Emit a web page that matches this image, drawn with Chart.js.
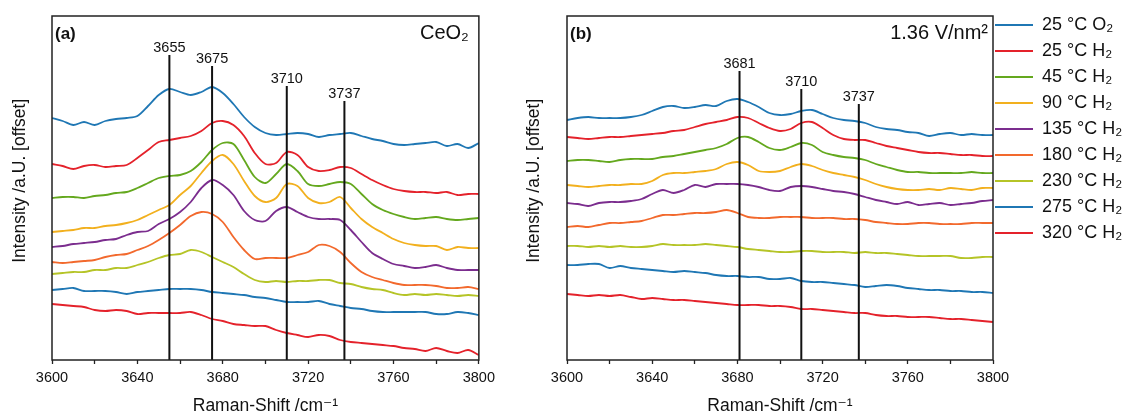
<!DOCTYPE html>
<html>
<head>
<meta charset="utf-8">
<script src="https://cdn.jsdelivr.net/npm/chart.js@4.4.1/dist/chart.umd.min.js"></script>
<style>
html,body{margin:0;padding:0;background:#fff;overflow:hidden;}
#wrap{position:relative;width:1124px;height:417px;}
canvas{position:absolute;top:0;}
#chartA{left:0;}
#chartB{left:520px;}
</style>
</head>
<body>
<div id="wrap">
<canvas id="chartA" width="500" height="417"></canvas>
<canvas id="chartB" width="604" height="417"></canvas>
</div>
<script>
// Raman shift grid (cm-1), shared by both panels
const shifts = [3600,3605,3610,3615,3620,3625,3630,3635,3640,3645,3650,3655,3660,3665,3670,3675,3680,3685,3690,3695,3700,3705,3710,3715,3720,3725,3730,3735,3740,3745,3750,3755,3760,3765,3770,3775,3780,3785,3790,3795,3800];

const labels = ["25 °C O₂","25 °C H₂","45 °C H₂","90 °C H₂","135 °C H₂","180 °C H₂","230 °C H₂","275 °C H₂","320 °C H₂"];
const colors = ["#1f77b4","#e4222b","#64a81e","#f2b01e","#7b2d8e","#f2692d","#b5c427","#1f77b4","#e4222b"];

// (a) CeO2, offset intensities
const a_O2_25  = [242,239,235,238,235,239,241,242,244,254,265,271,268,265,268,273,267,256,243,233,227,225,226,227,226,223,225,226,227,224,221,219,216,215,216,217,218,214,216,212,217];
const a_H2_25  = [196,194,191,194,195,193,194,195,202,210,218,220,222,224,229,237,239,235,224,207,196,197,208,205,193,189,190,193,192,186,180,175,171,169,168,168,167,168,165,166,166];
const a_H2_45  = [162,163,163,162,164,165,167,168,172,177,182,184,185,189,198,210,217,216,200,183,177,186,196,189,176,174,176,178,176,166,156,150,146,143,141,142,143,141,140,141,142];
const a_H2_90  = [128,129,130,132,132,134,135,137,140,145,150,155,165,174,187,199,205,196,179,164,158,162,176,174,162,157,158,163,152,141,133,127,121,117,115,114,114,110,113,112,112];
const a_H2_135 = [113,114,116,117,118,120,121,125,128,129,136,141,148,158,172,180,175,165,149,140,139,149,153,148,143,141,141,140,130,118,107,101,96,94,92,93,95,92,90,90,90];
const a_H2_180 = [98,97,98,99,100,103,105,106,110,114,120,127,135,144,148,146,138,123,110,101,102,102,102,105,108,115,114,108,97,88,83,80,77,75,75,75,74,72,72,73,71];
const a_H2_230 = [86,87,88,88,90,90,92,92,95,98,102,105,106,110,108,103,98,93,86,80,78,79,78,79,79,80,80,77,76,73,71,70,67,65,66,65,66,65,64,65,64];
const a_H2_275 = [70,71,72,69,69,69,68,66,68,69,70,71,71,71,70,68,67,66,65,63,62,60,58,58,58,59,56,54,52,51,49,48,48,48,48,48,46,46,48,47,45];
const a_H2_320 = [56,55,54,53,50,49,50,49,46,47,47,47,47,48,45,41,39,36,35,34,34,30,27,25,23,25,24,20,18,17,16,15,14,12,11,9,12,9,7,10,5];

// (b) 1.36 V/nm2, offset intensities
const b_O2_25  = [240,242,243,242,242,242,243,245,249,253,254,252,253,255,254,259,261,258,253,247,245,246,249,250,246,242,240,239,237,233,231,230,228,227,224,226,227,225,226,225,225];
const b_H2_25  = [223,222,221,222,223,223,224,225,226,227,229,230,233,236,238,240,243,242,237,232,229,231,237,238,232,225,221,220,220,217,214,212,210,208,207,207,206,205,205,204,204];
const b_H2_45  = [199,200,200,199,198,200,201,201,201,203,204,206,208,210,212,216,222,223,218,212,210,213,217,215,208,205,203,202,200,196,193,190,188,188,187,187,187,187,188,187,187];
const b_H2_90  = [175,174,173,174,175,175,176,176,179,185,187,187,188,189,191,196,198,195,189,188,189,193,196,194,190,187,185,183,180,176,173,171,170,170,171,170,172,171,170,172,172];
const b_H2_135 = [157,156,154,157,158,158,159,161,166,170,167,170,175,173,176,176,176,175,173,170,169,173,174,173,171,169,168,166,163,160,158,156,158,155,156,157,155,156,157,159,160];
const b_H2_180 = [133,134,133,135,137,137,138,139,142,145,145,146,147,147,148,150,147,143,142,142,143,143,143,142,142,142,141,141,140,138,137,136,136,137,137,136,136,136,137,137,137];
const b_H2_230 = [114,114,113,114,113,114,113,113,114,116,115,115,115,116,115,114,113,111,110,109,108,108,109,109,108,108,108,107,108,107,107,106,105,104,104,104,104,102,102,103,103];
const b_H2_275 = [95,95,96,96,92,94,92,91,90,89,88,89,88,87,85,84,84,83,83,81,81,82,79,78,78,77,76,75,73,74,75,74,72,71,70,70,69,69,68,68,67];
const b_H2_320 = [66,65,64,65,64,65,63,61,62,61,60,60,59,58,57,56,55,55,55,54,54,53,51,51,50,49,48,47,47,45,44,44,43,43,43,42,41,41,40,39,38];

// band positions and how high their marker lines reach
const peaksA = [3655,3675,3710,3737];
const peakTopsA = [305,294,274,259];
const peaksB = [3681,3710,3737];
const peakTopsB = [289,271,256];

const FONT = '"Liberation Sans", Arial, "DejaVu Sans", sans-serif';
Chart.defaults.font.family = FONT;
Chart.defaults.color = '#111';

// frame, band labels and panel captions
const panelDecor = {
  id: 'panelDecor',
  afterDraw(chart, args, opts) {
    const {ctx, chartArea: a, scales} = chart;
    ctx.save();
    ctx.strokeStyle = '#222';
    ctx.lineWidth = 1.5;
    ctx.strokeRect(a.left, a.top, a.right - a.left, a.bottom - a.top);

    ctx.fillStyle = '#111';
    ctx.font = '14.5px ' + FONT;
    ctx.textAlign = 'center';
    ctx.textBaseline = 'alphabetic';
    opts.peaks.forEach((p, i) => {
      ctx.fillText(String(p), scales.x.getPixelForValue(p), scales.y.getPixelForValue(opts.tops[i]) - 3);
    });

    ctx.textBaseline = 'middle';
    ctx.textAlign = 'left';
    ctx.font = 'bold 17px ' + FONT;
    ctx.fillText(opts.tag, a.left + 3, a.top + 18);
    ctx.textAlign = 'right';
    ctx.font = '20px ' + FONT;
    ctx.fillText(opts.sample, a.right - opts.inset, a.top + 17);
    ctx.restore();
  }
};

// pull the key up and left, next to the frame
const legendNudge = {
  id: 'legendNudge',
  afterLayout(chart) {
    if (chart.legend && chart.options.plugins.legend.display) {
      chart.legend.left -= 6;
      chart.legend.top -= 8;
    }
  }
};

function buildDatasets(series, peaks, tops) {
  const sets = series.map((vals, i) => ({
    label: labels[i],
    data: shifts.map((x, j) => ({x, y: vals[j]})),
    borderColor: colors[i],
    backgroundColor: colors[i],
    borderWidth: 1.8,
    pointRadius: 0,
    tension: 0.3,
    fill: false
  }));
  peaks.forEach((p, i) => {
    sets.push({
      label: String(p),
      data: [{x: p, y: 0}, {x: p, y: tops[i]}],
      borderColor: '#111',
      borderWidth: 2,
      pointRadius: 0,
      order: -1
    });
  });
  return sets;
}

function makePanel(id, series, peaks, tops, cfg) {
  return new Chart(document.getElementById(id), {
    type: 'line',
    data: {datasets: buildDatasets(series, peaks, tops)},
    options: {
      responsive: false,
      animation: false,
      events: [],
      layout: {padding: cfg.padding},
      scales: {
        x: {
          type: 'linear',
          min: 3600,
          max: 3800,
          afterFit: s => { s.height = 57; },
          border: {display: false},
          grid: {drawOnChartArea: false, tickLength: 4, color: '#222', tickWidth: 1.3},
          ticks: {
            stepSize: 20,
            autoSkip: false,
            maxRotation: 0,
            padding: 5,
            color: '#111',
            font: {size: 14.5},
            callback: v => (v % 40 === 0 ? String(v) : '')
          },
          title: {
            display: true,
            text: 'Raman-Shift /cm⁻¹',
            color: '#111',
            font: {size: 17.5},
            padding: {top: 0, bottom: 0}
          }
        },
        y: {
          min: 0,
          max: 344,
          afterFit: s => { s.width = cfg.yWidth; },
          border: {display: false},
          grid: {display: false},
          ticks: {display: false},
          title: {
            display: true,
            text: '   Intensity /a.U. [offset]',
            color: '#111',
            font: {size: 17.5},
            padding: {top: cfg.titlePad, bottom: 0}
          }
        }
      },
      plugins: {
        tooltip: {enabled: false},
        legend: cfg.legend,
        panelDecor: {peaks, tops, tag: cfg.tag, sample: cfg.sample, inset: cfg.inset}
      }
    },
    plugins: [panelDecor, legendNudge]
  });
}

makePanel('chartA',
  [a_O2_25, a_H2_25, a_H2_45, a_H2_90, a_H2_135, a_H2_180, a_H2_230, a_H2_275, a_H2_320],
  peaksA, peakTopsA,
  {
    padding: {top: 16, right: 21, left: 0, bottom: 0},
    yWidth: 52,
    titlePad: 10,
    tag: '(a)',
    sample: 'CeO₂',
    inset: 10,
    legend: {display: false}
  });

makePanel('chartB',
  [b_O2_25, b_H2_25, b_H2_45, b_H2_90, b_H2_135, b_H2_180, b_H2_230, b_H2_275, b_H2_320],
  peaksB, peakTopsB,
  {
    padding: {top: 16, right: 0, left: 0, bottom: 0},
    yWidth: 47,
    titlePad: 3.5,
    tag: '(b)',
    sample: '1.36 V/nm²',
    inset: 5,
    legend: {
      display: true,
      position: 'right',
      align: 'start',
      maxWidth: 131,
      labels: {
        usePointStyle: true,
        pointStyle: 'line',
        pointStyleWidth: 38,
        padding: 8,
        color: '#111',
        font: {size: 18},
        filter: item => item.datasetIndex < labels.length
      }
    }
  });
</script>
</body>
</html>
